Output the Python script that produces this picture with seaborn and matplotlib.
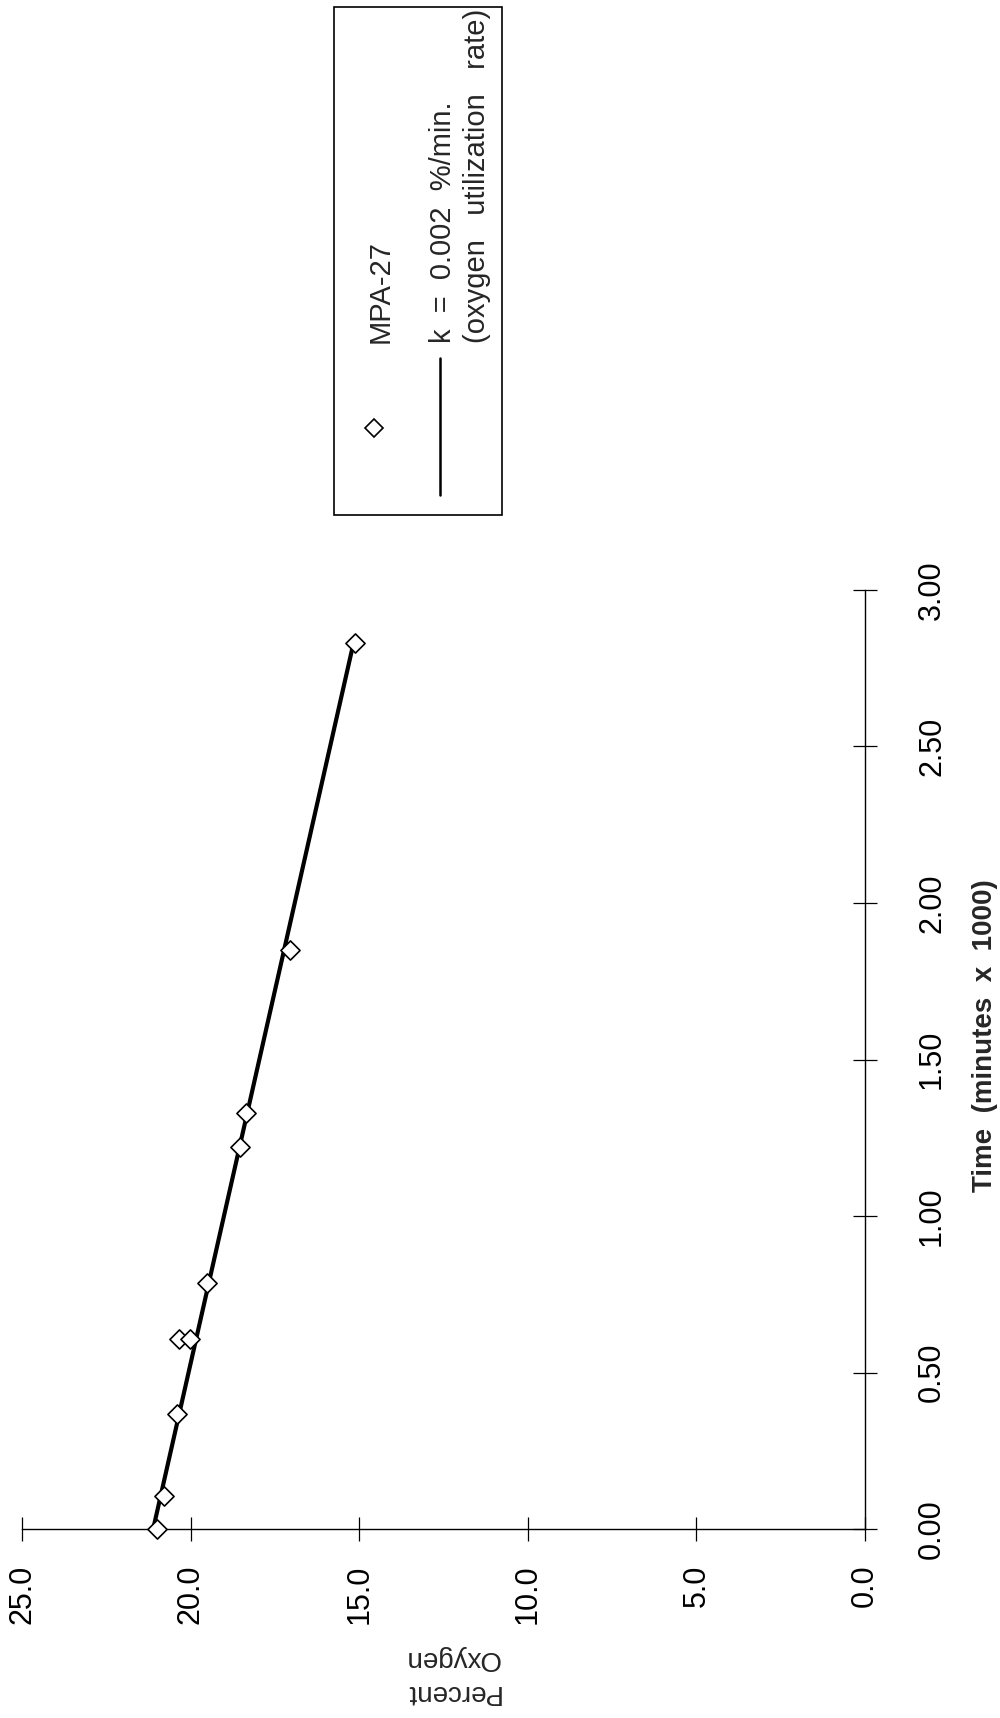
import matplotlib
matplotlib.use("Agg")
import pandas as pd
import seaborn as sns
import matplotlib.pyplot as plt
from matplotlib.patches import Rectangle
from matplotlib.lines import Line2D

# Oxygen uptake measurements for sample MPA-27
time_k = [0.0, 0.106, 0.366, 0.608, 0.608, 0.785, 1.22, 1.33, 1.85, 2.83]   # minutes x 1000
oxygen_pct = [20.99, 20.78, 20.39, 20.33, 20.02, 19.52, 18.53, 18.36, 17.05, 15.12]

# Fitted utilization line (end points)
fit_time = [0.0, 2.83]
fit_oxygen = [21.11, 15.17]

oxygen_ticks = [0.0, 5.0, 10.0, 15.0, 20.0, 25.0]
time_ticks = [0.0, 0.5, 1.0, 1.5, 2.0, 2.5, 3.0]

series_name = "MPA-27"
fit_text = "k  =  0.002  %/min.\n(oxygen   utilization   rate)"
oxygen_label = "Percent\nOxygen"
time_label = "Time  (minutes  x  1000)"

sns.set_theme(style="white")
plt.rcParams["font.family"] = ["Liberation Sans", "DejaVu Sans"]

W, H = 1000, 1718
fig = plt.figure(figsize=(W / 100, H / 100), dpi=100)


def fx(px):
    return px / W


def fy(py):
    return 1 - py / H


# the page is laid out sideways: oxygen runs horizontally, time vertically
ax_left, ax_right, ax_top, ax_bottom = 22, 865, 590, 1529
ax = fig.add_axes([fx(ax_left), fy(ax_bottom), (ax_right - ax_left) / W,
                   (ax_bottom - ax_top) / H])

pts = pd.DataFrame({"time": time_k, "oxygen": oxygen_pct})
fit = pd.DataFrame({"time": fit_time, "oxygen": fit_oxygen})

sns.lineplot(data=fit, x="oxygen", y="time", sort=False, color="black",
             linewidth=3.0, ax=ax, zorder=2)
sns.scatterplot(data=pts, x="oxygen", y="time", marker="D", s=95,
                color="white", edgecolor="black", linewidth=1.2, ax=ax,
                zorder=3, clip_on=False)

ax.set_xlim(25, 0)
ax.set_ylim(0, 3)

for side in ("top", "left"):
    ax.spines[side].set_visible(False)
for side in ("bottom", "right"):
    ax.spines[side].set_color("black")
    ax.spines[side].set_linewidth(1.0)

ax.yaxis.tick_right()
ax.set_xticks(oxygen_ticks, [f"{v:.1f}" for v in oxygen_ticks])
ax.set_yticks(time_ticks, [f"{v:.2f}" for v in time_ticks])
ax.tick_params(axis="x", direction="inout", length=17, width=0.9,
               bottom=True, labelrotation=90, pad=17, labelsize=22,
               colors="black")
ax.tick_params(axis="y", direction="inout", length=17, width=0.9,
               right=True, left=False, labelright=True, labelleft=False,
               labelrotation=90, pad=29, labelsize=22, colors="black")
for lab in ax.get_yticklabels():
    lab.set_verticalalignment("center")
    lab.set_horizontalalignment("left")

ax.set_xlabel(oxygen_label, fontsize=20, rotation=180, linespacing=1.4,
              multialignment="center", ha="center", va="center")
ax.xaxis.set_label_coords(0.51, -0.155)
ax.set_ylabel(time_label, fontsize=20, fontweight="bold", rotation=90)
ax.yaxis.set_label_position("right")
ax.yaxis.label.set_rotation_mode("default")
ax.yaxis.label.set_horizontalalignment("center")
ax.yaxis.label.set_verticalalignment("center")
ax.yaxis.set_label_coords(1.1423, 0.525)

# legend panel, drawn in the same sideways orientation
fig.add_artist(Rectangle((fx(334), fy(515)), 168 / W, 508 / H, fill=False,
                         edgecolor="black", linewidth=1.2,
                         transform=fig.transFigure))
fig.add_artist(Line2D([fx(374)], [fy(428)], marker="D", markersize=9.5,
                      markerfacecolor="white", markeredgecolor="black",
                      markeredgewidth=1.2, transform=fig.transFigure))
fig.add_artist(Line2D([fx(440), fx(440)], [fy(358), fy(495)], color="black",
                      linewidth=1.8, transform=fig.transFigure))
fig.text(fx(381), fy(343), series_name, rotation=90, ha="center", va="bottom",
         fontsize=21)
fig.text(fx(460), fy(343), fit_text, rotation=90, ha="center", va="bottom",
         fontsize=21, linespacing=1.3, multialignment="left")

fig.savefig("out.png", dpi=100, facecolor="white")
